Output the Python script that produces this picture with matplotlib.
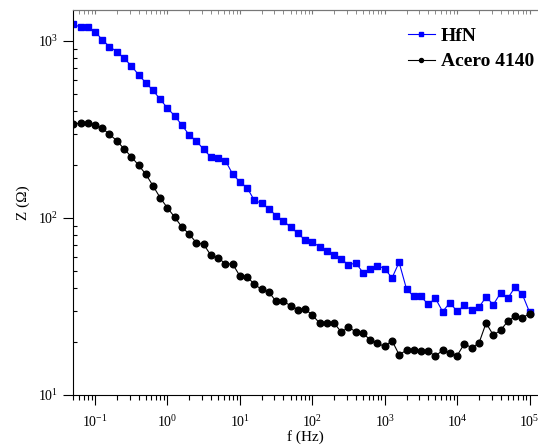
import numpy as np
import matplotlib
matplotlib.use('Agg')
import matplotlib.pyplot as plt
from matplotlib.ticker import LogLocator, NullFormatter

plt.rcParams['font.family'] = ['Liberation Serif', 'DejaVu Serif']
plt.rcParams['mathtext.fontset'] = 'custom'
plt.rcParams['mathtext.rm'] = 'Liberation Serif'
plt.rcParams['mathtext.it'] = 'Liberation Serif:italic'
plt.rcParams['axes.unicode_minus'] = False

# frequency grid, 10 points per decade from 0.05 Hz to 100 kHz
freq = [0.0501, 0.0631, 0.0794,
        0.100, 0.126, 0.158, 0.200, 0.251, 0.316, 0.398, 0.501, 0.631, 0.794,
        1.00, 1.26, 1.58, 2.00, 2.51, 3.16, 3.98, 5.01, 6.31, 7.94,
        10.0, 12.6, 15.8, 20.0, 25.1, 31.6, 39.8, 50.1, 63.1, 79.4,
        100, 126, 158, 200, 251, 316, 398, 501, 631, 794,
        1000, 1260, 1580, 2000, 2510, 3160, 3980, 5010, 6310, 7940,
        10000, 12600, 15800, 20000, 25100, 31600, 39800, 50100, 63100, 79400,
        100000]

z_hfn = [1247, 1194, 1194, 1130, 1014, 929, 871, 798, 725, 645,
         581, 526, 468, 417, 377, 335, 294, 272, 244, 221,
         219, 211, 177, 160, 148, 126, 121, 113, 103, 96.6,
         88.6, 82.0, 75.1, 73.1, 68.8, 65.3, 61.8, 58.9, 54.1, 55.9,
         49.1, 51.5, 53.8, 51.8, 45.8, 56.2, 39.7, 36.1, 36.1, 32.5,
         35.2, 29.6, 33.2, 29.7, 32.1, 30.2, 31.3, 35.8, 32.4, 37.7,
         35.2, 40.7, 37.1, 29.4]

z_acero = [338, 345, 345, 335, 321, 297, 273, 246, 222, 199,
           177, 152, 130, 114, 101, 89.0, 81.0, 72.4, 71.0, 61.5,
           59.7, 55.0, 55.0, 47.0, 46.6, 42.2, 39.5, 38.2, 33.8, 33.8,
           32.0, 30.4, 30.6, 28.3, 25.5, 25.5, 25.5, 22.7, 24.1, 22.8,
           22.3, 20.5, 19.6, 18.8, 20.3, 16.9, 17.9, 17.9, 17.7, 17.7,
           16.6, 17.9, 17.3, 16.7, 19.5, 18.5, 19.6, 25.5, 21.8, 23.2,
           26.1, 27.8, 27.4, 28.7]

fig = plt.figure(figsize=(5.38, 4.47), dpi=100)
ax = fig.add_axes([0.1362, 0.1163, 0.8634, 0.8613])

ax.plot(freq, z_hfn, '-s', color='#0000ff', lw=0.8, ms=4.5, label='HfN')
ax.plot(freq, z_acero, '-o', color='black', lw=0.8, ms=4.8, label='Acero 4140')

ax.set_xscale('log')
ax.set_yscale('log')
ax.set_xlim(0.05, 1.3e5)
ax.set_ylim(10, 1496)

ax.xaxis.set_major_locator(LogLocator(base=10, numticks=20))
ax.xaxis.set_minor_locator(LogLocator(base=10, subs=np.arange(2, 10), numticks=20))
ax.xaxis.set_minor_formatter(NullFormatter())
ax.yaxis.set_minor_locator(LogLocator(base=10, subs=np.arange(2, 10), numticks=20))
ax.yaxis.set_minor_formatter(NullFormatter())

ax.tick_params(which='major', direction='out', length=7, width=0.8, labelsize=10)
ax.tick_params(axis='x', which='minor', direction='out', length=3.5, width=0.8)
ax.tick_params(axis='y', which='minor', direction='in', length=3, width=0.8)
ax.tick_params(axis='x', which='major', pad=7)

ax.spines['right'].set_visible(False)
ax.spines['top'].set_color('#777777')

top = ax.secondary_xaxis('top')
top.xaxis.set_major_locator(LogLocator(base=10, numticks=20))
top.xaxis.set_minor_locator(LogLocator(base=10, subs=np.arange(2, 10), numticks=20))
top.tick_params(which='both', direction='in', colors='#777777', labeltop=False, length=3)
top.spines['top'].set_color('#777777')

ax.set_xlabel('f (Hz)', fontsize=11, labelpad=0)
ax.set_ylabel('Z (\u03a9)', fontsize=11, labelpad=6)

leg = ax.legend(loc='upper right', bbox_to_anchor=(1.017, 0.985), frameon=False,
                prop={'weight': 'bold', 'size': 14}, handlelength=1.4,
                handletextpad=0.3, markerscale=0.6, labelspacing=0.4,
                borderaxespad=0.2)

fig.savefig('out.png', dpi=100)
